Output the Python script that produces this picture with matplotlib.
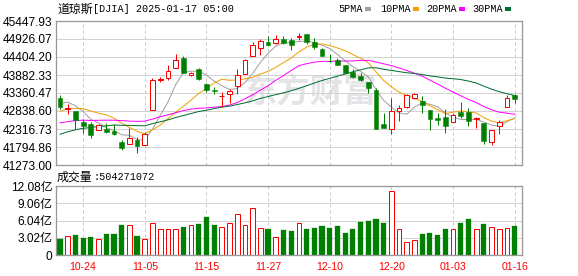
import matplotlib
matplotlib.use("Agg")
import matplotlib.pyplot as plt
import matplotlib.patches as mpatches
import numpy as np

W, H = 578, 276

# ---------------- data ----------------
dates = ["10-21","10-22","10-23","10-24","10-25","10-28","10-29","10-30","10-31","11-01",
         "11-04","11-05","11-06","11-07","11-08","11-11","11-12","11-13","11-14","11-15",
         "11-18","11-19","11-20","11-21","11-22","11-25","11-26","11-27","11-29","12-02",
         "12-03","12-04","12-05","12-06","12-09","12-10","12-11","12-12","12-13","12-16",
         "12-17","12-18","12-19","12-20","12-23","12-24","12-26","12-27","12-30","12-31",
         "01-02","01-03","01-06","01-07","01-08","01-10","01-13","01-14","01-15","01-16"]

opens = [43224, 42886, 42847, 42528, 42470, 42277, 42325, 42258, 41949, 41871,
         41997, 41842, 42867, 43736, 43794, 44075, 44384, 43881, 44046, 43611,
         43446, 43263, 43321, 43562, 43901, 44423, 44654, 44848, 44809, 44925,
         44906, 44993, 45060, 44848, 44635, 44297, 44326, 44181, 43968, 43852,
         43669, 43456, 42470, 42306, 42838, 42954, 43224, 43128, 42876, 42644,
         42673, 42519, 42818, 42809, 42596, 42490, 41949, 42393, 42954, 43302]
highs = [43302, 43050, 42847, 42596, 42528, 42451, 42490, 42451, 41987, 42335,
         42094, 42238, 43794, 43823, 44181, 44500, 44423, 43978, 44094, 43659,
         43533, 43398, 43466, 44046, 44335, 44848, 44925, 45012, 45041, 45012,
         44944, 45109, 45080, 44944, 44674, 44481, 44384, 44181, 44065, 43949,
         43669, 43495, 42789, 43224, 43012, 43321, 43369, 43263, 42876, 42770,
         42886, 42770, 43108, 42934, 42673, 42490, 42287, 42567, 43302, 43321]
lows = [42886, 42741, 42306, 42210, 42065, 42277, 42190, 42142, 41697, 41871,
        41630, 41842, 42867, 43678, 43746, 44075, 43949, 43852, 43727, 43398,
        43321, 42954, 43079, 43340, 43901, 44423, 44461, 44732, 44790, 44770,
        44596, 44886, 44790, 44625, 44423, 44249, 44162, 43930, 43804, 43707,
        43350, 42306, 42354, 42161, 42548, 42915, 43176, 42770, 42277, 42422,
        42190, 42519, 42625, 42393, 42335, 41871, 41852, 42161, 42954, 43079]
closes = [42954, 42925, 42567, 42393, 42142, 42432, 42238, 42161, 41775, 42065,
          41813, 42180, 43736, 43756, 43997, 44307, 43949, 43949, 43756, 43437,
          43427, 43282, 43418, 43881, 44316, 44751, 44867, 44751, 44925, 44819,
          44751, 45012, 44848, 44693, 44423, 44278, 44162, 43930, 43833, 43727,
          43495, 42325, 42354, 42838, 42915, 43302, 43340, 43012, 42596, 42567,
          42393, 42722, 42702, 42548, 42644, 41968, 42287, 42519, 43224, 43176]
# closes of the 29 sessions before the window (feed the moving averages)
prior_closes = [40737, 40862, 41097, 41394, 41622, 41606, 41503, 42025, 42063, 42125,
                42208, 41915, 42175, 42313, 42330, 42157, 42197, 42012, 42353, 41954,
                42080, 42512, 42454, 42864, 43065, 42740, 43078, 43239, 43276]
# volume in 亿 (1e8) shares
volumes = [2.79, 3.37, 3.55, 2.90, 3.20, 2.85, 3.72, 3.72, 5.29, 5.23,
           3.37, 2.85, 5.58, 4.48, 4.59, 4.59, 4.83, 5.23, 5.47, 6.69,
           5.30, 4.92, 5.62, 7.17, 5.27, 8.20, 4.72, 4.57, 3.12, 4.42,
           4.20, 5.60, 4.56, 4.74, 5.09, 4.74, 5.09, 3.92, 4.56, 5.79,
           5.96, 6.32, 5.60, 11.17, 4.50, 2.28, 2.57, 3.68, 3.86, 3.50,
           4.56, 4.50, 5.60, 6.32, 4.50, 5.44, 4.90, 4.56, 4.74, 5.04]

price_ticks = [41273.00, 41794.86, 42316.73, 42838.60, 43360.47, 43882.33, 44404.20, 44926.07, 45447.93]
vol_ticks = [0, 3.02, 6.04, 9.06, 12.08]
vol_tick_labels = ["0", "3.02亿", "6.04亿", "9.06亿", "12.08亿"]
date_tick_labels = ["10-24", "11-05", "11-15", "11-27", "12-10", "12-20", "01-03", "01-16"]
ma_periods = [5, 10, 20, 30]
ma_names = ["5PMA", "10PMA", "20PMA", "30PMA"]

# ---------------- style ----------------
RED = "#ff0000"
GREEN = "#008000"
MA_COLORS = ["#a0a0a0", "#f0a000", "#ff00ff", "#006e30"]
GRID = "#d3d3d3"
BORDER = "#999999"
px = 0.72  # 1 pixel in points

fig = plt.figure(figsize=(W / 100, H / 100), dpi=100)
fig.patch.set_facecolor("white")

def fx(x): return x / W
def fy(y): return 1 - y / H

ax = fig.add_axes([fx(56), fy(165), (522 - 56) / W, (165 - 21) / H])
axv = fig.add_axes([fx(56), fy(255), (522 - 56) / W, (255 - 186) / H])

n = len(closes)
idx = np.arange(n)
all_closes = np.array(prior_closes + closes, dtype=float)

# watermark
ax.text(0.545, 0.50, "东方财富", transform=ax.transAxes, fontsize=24, fontweight="bold",
        color="#e4e4e8", ha="center", va="center", family=["Noto Sans CJK SC"], zorder=0.5)

# moving averages
for p, c in zip(ma_periods, MA_COLORS):
    ma = np.convolve(all_closes, np.ones(p) / p, mode="valid")
    ma = ma[-n:]
    ax.plot(idx, ma, color=c, lw=1.0 * px, zorder=2)

# candles
bw = 0.62
min_h = 12
for i in range(n):
    o, h, l, c = opens[i], highs[i], lows[i], closes[i]
    up = c >= o
    col = RED if up else GREEN
    ax.vlines(i, l, h, color=col, lw=1.0 * px, zorder=3)
    bottom = min(o, c)
    height = max(abs(c - o), min_h)
    if up:
        ax.bar(i, height, bottom=bottom, width=bw, facecolor="white", edgecolor=col,
               linewidth=1.0 * px, zorder=4)
    else:
        ax.bar(i, height, bottom=bottom, width=bw, facecolor=col, edgecolor=col,
               linewidth=0.5 * px, zorder=4)

# volume bars
for i in range(n):
    up = closes[i] >= opens[i]
    if up:
        axv.bar(i, volumes[i], width=bw, facecolor="white", edgecolor=RED, linewidth=1.0 * px, zorder=3)
    else:
        axv.bar(i, volumes[i], width=bw + 0.05, facecolor=GREEN, edgecolor=GREEN, linewidth=0.3 * px, zorder=3)

tick_pos = [dates.index(d) for d in date_tick_labels]

for a, yl, yt in [(ax, (41273.00, 45447.93), price_ticks), (axv, (0, 12.08), vol_ticks)]:
    a.set_xlim(-0.52, 59.95)
    a.set_ylim(*yl)
    a.set_yticks(yt)
    a.set_xticks(tick_pos)
    a.tick_params(length=0)
    for y in yt:
        a.axhline(y, color=GRID, lw=1.0 * px, zorder=1)
    for xp in tick_pos:
        a.axvline(xp, color="#c8c8c8", lw=1.0 * px, ls=(0, (3, 3)), zorder=1)
    for s in a.spines.values():
        s.set_color(BORDER)
        s.set_linewidth(1.3 * px)
        s.set_zorder(5)

ax.set_xticklabels([])
ax.set_yticklabels([f"{v:.2f}" for v in price_ticks], family=["Liberation Sans"], fontsize=8.6)
ax.tick_params(axis="y", pad=2.5)
axv.set_yticklabels(vol_tick_labels, family=["Liberation Sans", "Noto Sans CJK SC"], fontsize=8.6)
axv.tick_params(axis="y", pad=2.5)
axv.set_xticklabels(date_tick_labels, family=["Liberation Sans"], fontsize=7.6, color=RED)
axv.tick_params(axis="x", pad=5)

# title
fig.text(fx(57), fy(9.5), "道琼斯", family=["Noto Sans CJK SC"], fontsize=8.6, va="center", ha="left")
fig.text(fx(93), fy(9.5), "[DJIA] 2025-01-17 05:00", family=["Liberation Mono"], fontsize=7.3, va="center", ha="left")

# legend
leg_text_x = [338, 380, 426, 472]
leg_box_x = [365, 413, 459, 505]
for name, c, tx, bx in zip(ma_names, MA_COLORS, leg_text_x, leg_box_x):
    fig.text(fx(tx), fy(9.5), name, family=["Liberation Mono"], fontsize=7.3, va="center", ha="left")
    fig.add_artist(mpatches.Rectangle((fx(bx), fy(10.5)), 6 / W, 3 / H, transform=fig.transFigure,
                                      facecolor=c, edgecolor="none"))

# volume label
fig.text(fx(57), fy(177), "成交量", family=["Noto Sans CJK SC"], fontsize=8.6, va="center", ha="left")
fig.text(fx(93), fy(177), ":504271072", family=["Liberation Mono"], fontsize=7.3, va="center", ha="left")

fig.savefig("out.png", dpi=100, facecolor="white")
